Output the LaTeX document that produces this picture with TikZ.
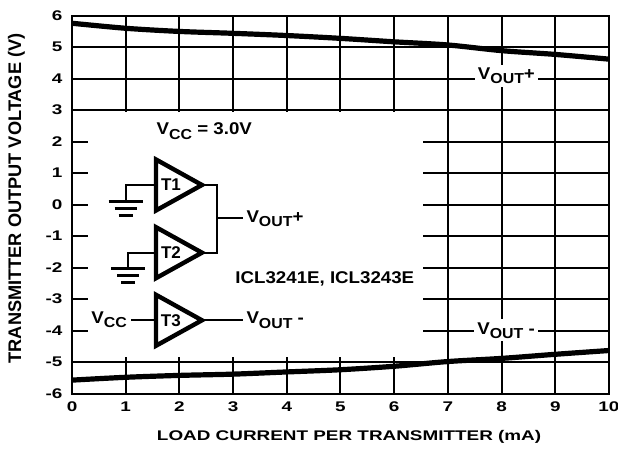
\documentclass[tikz,border=0pt]{standalone}
\usepackage{fontspec}
\setmainfont{Liberation Sans}
\usepackage{graphicx}
\usetikzlibrary{shapes.geometric,positioning}
\newcommand\lowr[1]{\raisebox{-.45ex}{\scalebox{.85}{#1}}}

\begin{document}
\begin{tikzpicture}[x=26.85pt,y=15.75pt,
  gridln/.style={line width=1pt},
  trace/.style={line width=2.6pt},
  wire/.style={line width=1.1pt},
  gnd/.style={line width=1.4pt},
  amp/.style={isosceles triangle,isosceles triangle stretches,draw,line width=2.2pt,
    minimum width=25.5pt,minimum height=23pt,inner sep=0pt,outer sep=0pt,
    font=\fontsize{8.5}{9}\selectfont\bfseries},
  lbl/.style={font=\fontsize{7}{8}\selectfont\bfseries,inner sep=0pt,xscale=1.35,transform shape},
  txt/.style={font=\fontsize{8.5}{10}\selectfont\bfseries,inner sep=1.5pt,xscale=1.1,transform shape}]

  \useasboundingbox[fill=white] (-1.341,-7.819) rectangle (10.168,6.498);

  % grid and frame
  \foreach \y in {3,4,5,6,-5,-6} \draw[gridln] (0,\y) -- (10,\y);
  \foreach \y in {-4,...,2} {
    \draw[gridln] (0,\y) -- (0.3,\y);
    \draw[gridln] (6.54,\y) -- (10,\y);
  }
  \foreach \x in {1,...,6} {
    \draw[gridln] (\x,6) -- (\x,2.95);
    \draw[gridln] (\x,-6) -- (\x,-4.82);
  }
  \foreach \x in {7,8,9} \draw[gridln] (\x,6) -- (\x,-6);
  \draw[gridln] (0,-6) rectangle (10,6);

  % ticks and titles
  \foreach \y in {-6,...,6} \node[lbl,anchor=east] (ty\y) at (-0.17,\y) {\y};
  \foreach \x in {0,...,10} \node[lbl] (tx\x) at (\x,-6.42) {\x};
  \node[lbl] (xt) at (5.16,-7.37) {LOAD CURRENT PER TRANSMITTER (mA)};
  \node[font=\fontsize{9.1}{10}\selectfont\bfseries,rotate=90,inner sep=0pt] (yt) at (-1.034,0.2)
    {TRANSMITTER OUTPUT VOLTAGE (V)};

  % measured curves
  \draw[trace] plot[smooth] coordinates {(0,5.76) (1,5.6) (2,5.5) (3,5.44) (4,5.37) (5,5.28)
    (6,5.17) (7,5.07) (8,4.89) (9,4.77) (10,4.62)};
  \draw[trace] plot[smooth] coordinates {(0,-5.57) (1,-5.48) (2,-5.42) (3,-5.38) (4,-5.31)
    (5,-5.24) (6,-5.13) (7,-4.98) (8,-4.88) (9,-4.75) (10,-4.63)};

  \node[txt,fill=white,anchor=base west] (vp) at (7.49,3.96) {V\lowr{OUT}+};
  \node[txt,fill=white,anchor=base west] (vm) at (7.48,-4.11) {V\lowr{OUT} -};

  % test circuit
  \node[txt,anchor=base west] (vcc) at (1.508,2.213) {V\lowr{CC} = 3.0V};
  \node[amp,anchor=apex] (T1) at (2.42,0.625) {T1};
  \node[amp,anchor=apex] (T2) at (2.42,-1.524) {T2};
  \node[amp,anchor=apex] (T3) at (2.42,-3.67) {T3};
  \node[txt,anchor=base west] (op) at (3.18,-0.571) {V\lowr{OUT}+};
  \node[txt,anchor=base west] (om) at (3.18,-3.787) {V\lowr{OUT} -};
  \node[txt,anchor=base east] (vin) at (1.09,-3.771) {V\lowr{CC}};
  \node[txt,anchor=base west] (ic) at (2.974,-2.517) {ICL3241E, ICL3243E};
  \coordinate (j) at (2.70,-0.432);
  \coordinate (g1) at (1.0,0.095);
  \coordinate (g2) at (1.05,-2.02);

  \draw[wire] (T1.apex) -| (j) |- (T2.apex);
  \draw[wire] (j) -- (j -| op.west);
  \draw[wire] (T3.apex) -- (T3.apex -| om.west);
  \draw[wire] (T3.west) -- (T3.west -| vin.east);
  \draw[wire] (T1.west) -| (g1);
  \draw[wire] (T2.west) -| (g2);
  \foreach \g in {g1,g2} {
    \draw[gnd] ([xshift=-8.5pt]\g) -- ([xshift=8.5pt]\g);
    \draw[gnd] ([shift={(-5.5pt,-3.5pt)}]\g) -- ([shift={(5.5pt,-3.5pt)}]\g);
    \draw[gnd] ([shift={(-3.5pt,-7pt)}]\g) -- ([shift={(3.5pt,-7pt)}]\g);
  }
\end{tikzpicture}
\end{document}
